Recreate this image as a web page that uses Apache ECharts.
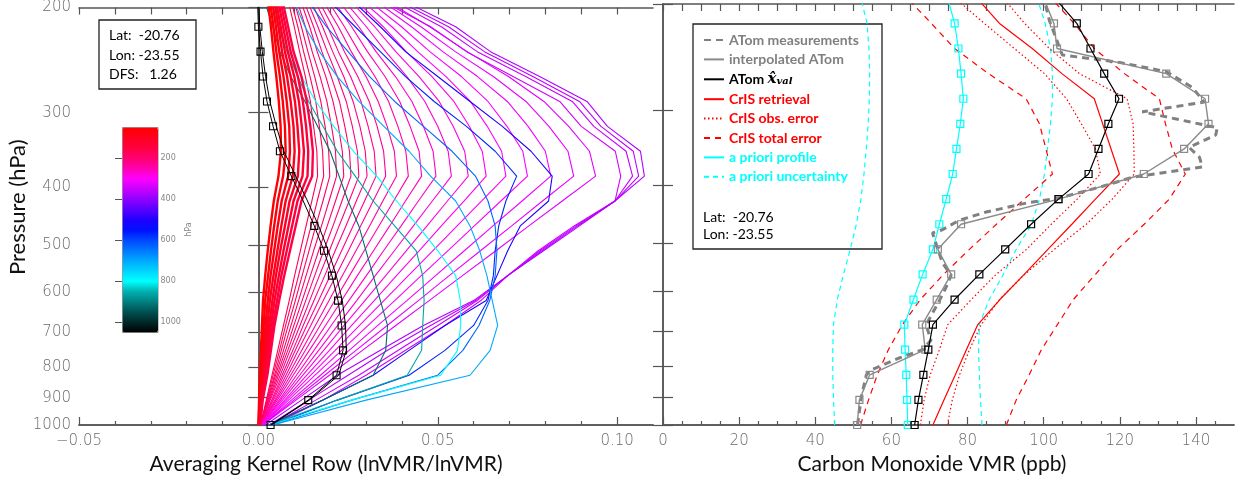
<!DOCTYPE html>
<html>
<head>
<meta charset="utf-8">
<script src="https://cdn.jsdelivr.net/npm/echarts@6/dist/echarts.min.js"></script>
<style>
html, body { margin: 0; padding: 0; background: #fff; }
#chart { width: 1244px; height: 480px; }
</style>
</head>
<body>
<div id="chart"></div>
<script>
// retrieval pressure levels (hPa), surface -> top
const levels = [1000, 908.5, 825.4, 749.9, 681.3, 619.0, 562.3, 510.9, 464.2, 421.7, 383.1, 348.1, 316.2, 287.3, 261.0, 237.1, 215.4, 195.7];

// averaging kernel rows: pressure of the row (colour) and value at each level
const akRowPressure = [50, 65, 80, 95, 110, 125, 140, 155,
  170, 177, 184, 191, 198, 205, 212, 219, 226, 233, 240, 248, 256, 264, 272, 280, 288, 296, 304, 312, 320, 328,
  340, 350, 360, 370,
  510, 570, 630, 700, 800, 860, 920];
const akRows = [
  [0.0000,0.0002,0.0004,0.0007,0.0010,0.0013,0.0019,0.0026,0.0034,0.0043,0.0056,0.0063,0.0062,0.0057,0.0050,0.0042,0.0035,0.0027],
  [0.0001,0.0003,0.0007,0.0011,0.0015,0.0019,0.0027,0.0035,0.0044,0.0054,0.0069,0.0076,0.0074,0.0068,0.0060,0.0050,0.0042,0.0033],
  [0.0001,0.0005,0.0010,0.0015,0.0020,0.0026,0.0034,0.0044,0.0054,0.0065,0.0083,0.0088,0.0086,0.0079,0.0070,0.0058,0.0049,0.0039],
  [0.0002,0.0006,0.0013,0.0019,0.0025,0.0032,0.0042,0.0053,0.0064,0.0076,0.0096,0.0101,0.0098,0.0090,0.0080,0.0066,0.0056,0.0045],
  [0.0003,0.0008,0.0016,0.0023,0.0030,0.0039,0.0049,0.0061,0.0074,0.0087,0.0110,0.0114,0.0109,0.0102,0.0090,0.0074,0.0062,0.0050],
  [0.0004,0.0009,0.0019,0.0027,0.0035,0.0045,0.0057,0.0070,0.0084,0.0098,0.0123,0.0127,0.0121,0.0113,0.0100,0.0082,0.0069,0.0056],
  [0.0004,0.0011,0.0022,0.0031,0.0040,0.0052,0.0064,0.0079,0.0094,0.0109,0.0137,0.0139,0.0133,0.0124,0.0110,0.0090,0.0076,0.0062],
  [0.0005,0.0012,0.0025,0.0035,0.0045,0.0058,0.0072,0.0088,0.0104,0.0120,0.0150,0.0152,0.0145,0.0135,0.0120,0.0098,0.0083,0.0068],
  [0.0006,0.0022,0.0038,0.0054,0.0070,0.0086,0.0101,0.0117,0.0133,0.0149,0.0165,0.0163,0.0154,0.0145,0.0131,0.0115,0.0100,0.0084],
  [0.0006,0.0024,0.0041,0.0059,0.0076,0.0094,0.0112,0.0129,0.0147,0.0164,0.0182,0.0179,0.0170,0.0160,0.0144,0.0126,0.0110,0.0092],
  [0.0006,0.0025,0.0045,0.0064,0.0083,0.0103,0.0122,0.0141,0.0160,0.0180,0.0199,0.0196,0.0186,0.0174,0.0157,0.0138,0.0120,0.0100],
  [0.0006,0.0027,0.0048,0.0070,0.0091,0.0112,0.0133,0.0154,0.0176,0.0197,0.0218,0.0215,0.0204,0.0191,0.0172,0.0150,0.0131,0.0109],
  [0.0006,0.0029,0.0052,0.0076,0.0099,0.0122,0.0145,0.0168,0.0192,0.0215,0.0238,0.0234,0.0223,0.0208,0.0188,0.0164,0.0143,0.0119],
  [0.0006,0.0031,0.0056,0.0082,0.0107,0.0132,0.0157,0.0182,0.0208,0.0233,0.0258,0.0254,0.0241,0.0226,0.0203,0.0177,0.0154,0.0128],
  [0.0006,0.0033,0.0061,0.0088,0.0116,0.0143,0.0170,0.0198,0.0225,0.0253,0.0280,0.0276,0.0262,0.0245,0.0220,0.0192,0.0166,0.0138],
  [0.0007,0.0037,0.0066,0.0096,0.0125,0.0155,0.0185,0.0214,0.0244,0.0273,0.0303,0.0298,0.0283,0.0264,0.0238,0.0207,0.0179,0.0148],
  [0.0007,0.0039,0.0071,0.0103,0.0135,0.0168,0.0200,0.0232,0.0264,0.0296,0.0328,0.0323,0.0306,0.0286,0.0257,0.0223,0.0193,0.0159],
  [0.0007,0.0042,0.0077,0.0111,0.0146,0.0181,0.0216,0.0251,0.0285,0.0320,0.0355,0.0349,0.0331,0.0309,0.0277,0.0240,0.0207,0.0170],
  [0.0008,0.0046,0.0083,0.0121,0.0159,0.0197,0.0234,0.0272,0.0310,0.0347,0.0385,0.0379,0.0359,0.0334,0.0300,0.0259,0.0223,0.0182],
  [0.0008,0.0049,0.0090,0.0131,0.0172,0.0213,0.0254,0.0295,0.0336,0.0377,0.0418,0.0411,0.0389,0.0363,0.0325,0.0280,0.0240,0.0196],
  [0.0008,0.0053,0.0097,0.0142,0.0187,0.0232,0.0276,0.0321,0.0366,0.0410,0.0455,0.0448,0.0423,0.0394,0.0353,0.0304,0.0260,0.0211],
  [0.0009,0.0058,0.0106,0.0155,0.0203,0.0252,0.0301,0.0349,0.0398,0.0446,0.0495,0.0487,0.0460,0.0428,0.0382,0.0328,0.0280,0.0226],
  [0.0009,0.0062,0.0115,0.0168,0.0221,0.0274,0.0326,0.0379,0.0432,0.0485,0.0538,0.0529,0.0500,0.0464,0.0414,0.0355,0.0301,0.0242],
  [0.0009,0.0067,0.0124,0.0182,0.0239,0.0297,0.0355,0.0412,0.0470,0.0527,0.0585,0.0575,0.0543,0.0504,0.0448,0.0383,0.0324,0.0259],
  [0.0010,0.0073,0.0135,0.0198,0.0260,0.0323,0.0385,0.0448,0.0510,0.0573,0.0635,0.0624,0.0588,0.0545,0.0484,0.0412,0.0348,0.0276],
  [0.0010,0.0078,0.0146,0.0214,0.0282,0.0350,0.0418,0.0486,0.0554,0.0622,0.0690,0.0678,0.0638,0.0591,0.0523,0.0444,0.0372,0.0293],
  [0.0010,0.0084,0.0158,0.0232,0.0306,0.0380,0.0454,0.0528,0.0602,0.0676,0.0750,0.0737,0.0693,0.0640,0.0566,0.0478,0.0399,0.0311],
  [0.0012,0.0092,0.0173,0.0253,0.0333,0.0414,0.0494,0.0574,0.0654,0.0735,0.0815,0.0800,0.0752,0.0694,0.0611,0.0514,0.0427,0.0330],
  [0.0012,0.0099,0.0185,0.0272,0.0359,0.0446,0.0532,0.0619,0.0706,0.0792,0.0879,0.0863,0.0810,0.0746,0.0655,0.0549,0.0453,0.0346],
  [0.0012,0.0105,0.0198,0.0290,0.0383,0.0476,0.0569,0.0662,0.0754,0.0847,0.0940,0.0923,0.0865,0.0796,0.0697,0.0582,0.0478,0.0362],
  [0.0040,0.0180,0.0300,0.0410,0.0520,0.0620,0.0695,0.0780,0.0880,0.0994,0.1010,0.0995,0.0900,0.0840,0.0710,0.0580,0.0480,0.0350],
  [0.0035,0.0160,0.0280,0.0390,0.0500,0.0610,0.0695,0.0785,0.0885,0.0994,0.1043,0.1025,0.0935,0.0875,0.0745,0.0610,0.0510,0.0380],
  [0.0030,0.0140,0.0250,0.0360,0.0480,0.0605,0.0695,0.0790,0.0890,0.0994,0.1060,0.1045,0.0955,0.0895,0.0765,0.0630,0.0530,0.0395],
  [0.0020,0.0120,0.0220,0.0340,0.0460,0.0600,0.0695,0.0795,0.0895,0.0994,0.1076,0.1065,0.0973,0.0916,0.0784,0.0647,0.0550,0.0410],
  [0.0030,0.0180,0.0320,0.0420,0.0520,0.0635,0.0665,0.0695,0.0730,0.0809,0.0819,0.0760,0.0680,0.0590,0.0500,0.0410,0.0340,0.0266],
  [0.0040,0.0220,0.0420,0.0520,0.0600,0.0640,0.0655,0.0660,0.0670,0.0690,0.0720,0.0660,0.0580,0.0490,0.0410,0.0340,0.0270,0.0200],
  [0.0040,0.0260,0.0500,0.0570,0.0615,0.0645,0.0660,0.0665,0.0660,0.0640,0.0605,0.0540,0.0460,0.0380,0.0310,0.0250,0.0190,0.0140],
  [0.0040,0.0300,0.0590,0.0646,0.0667,0.0652,0.0637,0.0617,0.0590,0.0550,0.0480,0.0420,0.0350,0.0280,0.0220,0.0170,0.0130,0.0100],
  [0.0030,0.0260,0.0508,0.0555,0.0564,0.0563,0.0550,0.0500,0.0445,0.0385,0.0330,0.0265,0.0210,0.0160,0.0120,0.0085,0.0058,0.0040],
  [0.0030,0.0220,0.0415,0.0455,0.0458,0.0462,0.0458,0.0440,0.0380,0.0320,0.0270,0.0220,0.0180,0.0140,0.0110,0.0080,0.0055,0.0035],
  [0.0030,0.0180,0.0320,0.0355,0.0360,0.0340,0.0320,0.0300,0.0280,0.0250,0.0225,0.0200,0.0165,0.0130,0.0090,0.0060,0.0040,0.0018]
];
// black kernel curves
const akBlack = [0.0034,0.0139,0.0218,0.0236,0.0232,0.0222,0.0205,0.0183,0.0156,0.0125,0.0092,0.0060,0.0041,0.0024,0.0013,0.0006,0.0000,-0.0002];
const akBlack2 = [0.0036,0.0142,0.0224,0.0245,0.0243,0.0234,0.0217,0.0195,0.0168,0.0137,0.0104,0.0071,0.0050,0.0032,0.0020,0.0011,0.0004,0.0001];

// CO profiles (ppb) on the levels
const atomInterp = [51.0, 51.6, 54.3, 68.9, 68.1, 71.9, 75.7, 72.2, 78.3, 103.9, 126.3, 136.9, 143.3, 142.4, 132.2, 103.5, 102.7, 100.0];
const atomXval   = [66.1, 67.1, 68.4, 69.7, 70.9, 76.6, 83.1, 89.9, 96.7, 103.9, 111.8, 114.4, 117.0, 119.8, 115.9, 112.3, 108.7, 103.0];
const crisRet    = [70.9, 73.8, 76.8, 79.7, 82.7, 88.5, 94.9, 101.1, 107.4, 113.6, 119.9, 117.7, 115.5, 113.3, 104.8, 97.0, 88.4, 82.5];
const crisObsLo  = [67.6, 68.6, 70.2, 72.6, 74.8, 81.0, 87.5, 95.5, 102.0, 108.8, 114.9, 113.6, 109.9, 106.0, 100.2, 92.3, 84.4, 76.8];
const crisObsHi  = [74.7, 76.0, 77.9, 80.5, 83.6, 88.4, 95.0, 102.8, 111.2, 118.0, 123.8, 123.7, 123.5, 121.9, 109.4, 101.5, 95.0, 89.4];
const crisTotLo  = [51.9, 54.0, 56.3, 59.2, 62.9, 67.6, 73.7, 80.5, 87.6, 94.9, 102.3, 100.6, 98.9, 95.4, 85.5, 76.6, 70.5, 64.2];
const crisTotHi  = [90.2, 92.8, 96.2, 99.4, 103.6, 107.8, 113.6, 119.4, 126.4, 133.0, 137.2, 133.8, 132.0, 130.4, 121.2, 113.3, 108.0, 102.0];
const aprioriProf = [64.3, 64.1, 63.9, 63.6, 63.4, 65.8, 68.2, 70.9, 72.6, 74.4, 76.1, 77.1, 78.1, 78.9, 78.3, 77.6, 76.6, 74.8];
const aprioriLo  = [45.1, 44.8, 44.6, 44.6, 44.8, 45.8, 47.4, 49.2, 50.8, 52.0, 52.8, 53.4, 53.9, 54.2, 54.3, 54.1, 53.6, 52.0];
const aprioriHi  = [83.8, 83.4, 83.1, 82.9, 83.1, 85.7, 89.4, 92.8, 96.8, 98.9, 100.2, 101.0, 101.8, 102.3, 102.3, 101.8, 100.4, 98.3];
// raw ATom measurements (own pressures)
const atomMeasP   = [1000, 899, 826, 810, 774, 750, 723, 682, 620, 590, 564, 538, 480, 474, 457, 443, 428, 420, 403, 388, 377, 373, 359, 346, 330, 321, 302, 291, 275, 259, 250, 243, 213, 197];
const atomMeasVmr = [51.1, 52.1, 53.4, 54.7, 62.1, 68.2, 70.4, 69.1, 72.7, 74.4, 75.7, 73.4, 70.8, 73.4, 77.9, 84.9, 95.5, 104.1, 114.6, 123.3, 136.4, 141.7, 140.9, 138.2, 145.2, 145.6, 125.9, 142.2, 139.0, 132.2, 119.9, 104.9, 101.5, 100.2];

// tick values
const pressureTicks = [200, 300, 400, 500, 600, 700, 800, 900, 1000];
const akMajorTicks = [-0.05, 0, 0.05, 0.1];
const akMinorTicks = [-0.04, -0.03, -0.02, -0.01, 0.01, 0.02, 0.03, 0.04, 0.06, 0.07, 0.08, 0.09];
const coMajorTicks = [0, 20, 40, 60, 80, 100, 120, 140];
const coMinorTicks = [5, 10, 15, 25, 30, 35, 45, 50, 55, 65, 70, 75, 85, 90, 95, 105, 110, 115, 125, 130, 135, 145];
const cbMajorTicks = [200, 400, 600, 800, 1000];
const cbMinorTicks = [100, 150, 250, 300, 350, 450, 500, 550, 650, 700, 750, 850, 900, 950];

const cbColors = ['#ff0000','#ff0020','#ff0040','#ff0070','#ff00b0','#ff00ff','#c800ff','#9000ff','#5800ff','#2000ff',
  '#0010ff','#0048ff','#0078ff','#00a8ff','#00d4ff','#00ffff','#00b0b0','#008080','#005050','#002828','#000000'];
const rowColor = p => echarts.color.lerp((p - 50) / 1000, cbColors);

const lg = p => Math.log10(p);
const onLevels = vals => vals.map((v, i) => [v, lg(levels[i])]);
const logTicks = pressureTicks.map(lg);

const AX = '#555';
const tickFont = { fontFamily: 'DejaVu Sans', fontWeight: 300, fontSize: 15, color: '#6a6a6a' };

function xAx(grid, min, max, pos, ticks, len, labels, fmt, name, pad) {
  return {
    type: 'value', gridIndex: grid, min: min, max: max, position: pos,
    axisLine: { show: true, lineStyle: { color: AX, width: 1.5 } },
    axisTick: { show: true, inside: true, length: len, customValues: ticks, lineStyle: { color: AX, width: 1.2 } },
    axisLabel: labels ? Object.assign({ show: true, customValues: labels, formatter: fmt, margin: 9 }, tickFont) : { show: false },
    splitLine: { show: false },
    name: name || '', nameLocation: 'middle', nameGap: 23,
    nameTextStyle: { fontFamily: 'Lato', fontSize: 21, color: '#111', padding: pad || 0 }
  };
}
function yAx(grid, pos, labels, name) {
  return {
    type: 'value', gridIndex: grid, min: lg(200), max: 3, inverse: true, position: pos,
    axisLine: { show: true, lineStyle: { color: AX, width: 1.5 } },
    axisTick: { show: true, inside: true, length: 10, customValues: logTicks, lineStyle: { color: AX, width: 1.2 } },
    axisLabel: labels ? Object.assign({ show: true, customValues: logTicks, margin: 8,
      formatter: v => String(Math.round(Math.pow(10, v))) }, tickFont) : { show: false },
    splitLine: { show: false },
    name: name || '', nameLocation: 'middle', nameGap: 44, nameRotate: 90,
    nameTextStyle: { fontFamily: 'Lato', fontSize: 22, color: '#111', padding: [0, 0, 0, 18] }
  };
}
const fmtAk = v => (v < 0 ? '\u2212' : '') + Math.abs(v).toFixed(2);

const series = [];
// left panel: kernel rows
akRows.forEach((row, i) => {
  const strat = akRowPressure[i] < 165;
  series.push({
    type: 'line', xAxisIndex: 0, yAxisIndex: 0, data: onLevels(row), symbol: 'none', silent: true,
    lineStyle: { color: rowColor(akRowPressure[i]), width: strat ? 2.4 : 1.1 },
    z: strat ? 3 : 2
  });
});
series.push({
  type: 'line', xAxisIndex: 0, yAxisIndex: 0, data: onLevels(akBlack2), symbol: 'none', silent: true,
  lineStyle: { color: '#000', width: 1 }, z: 4
});
series.push({
  type: 'line', xAxisIndex: 0, yAxisIndex: 0, silent: true,
  data: onLevels(akBlack).map((d, i) => i === 9 ? { value: d, symbol: 'none' } : d),
  symbol: 'rect', symbolSize: 7, showAllSymbol: true,
  itemStyle: { color: 'rgba(0,0,0,0)', borderColor: '#000', borderWidth: 1.1 },
  lineStyle: { color: '#000', width: 1 }, z: 5
});

// right panel: CO profiles
function co(name, vals, color, width, type, z, sym) {
  const s = {
    name: name, type: 'line', xAxisIndex: 3, yAxisIndex: 2, silent: true,
    data: vals, symbol: 'none', z: z,
    lineStyle: { color: color, width: width, type: type },
    itemStyle: { color: color }
  };
  if (sym) {
    s.symbol = 'rect'; s.symbolSize = 7; s.showAllSymbol = true;
    s.itemStyle = { color: 'rgba(0,0,0,0)', borderColor: color, borderWidth: 1.2 };
  }
  return s;
}
series.push(co('a priori uncertainty', onLevels(aprioriLo), '#00ffff', 1.2, [5, 4], 2));
series.push(co('a priori uncertainty', onLevels(aprioriHi), '#00ffff', 1.2, [5, 4], 2));
series.push(co('CrIS total error', onLevels(crisTotLo), '#ff0000', 1.2, [6, 5], 3));
series.push(co('CrIS total error', onLevels(crisTotHi), '#ff0000', 1.2, [6, 5], 3));
series.push(co('CrIS obs. error', onLevels(crisObsLo), '#ff0000', 1.2, [1.5, 2.5], 3));
series.push(co('CrIS obs. error', onLevels(crisObsHi), '#ff0000', 1.2, [1.5, 2.5], 3));
series.push(co('CrIS retrieval', onLevels(crisRet), '#ff0000', 1.2, 'solid', 4));
series.push(co('a priori profile', onLevels(aprioriProf), '#00ffff', 1.2, 'solid', 4, true));
series.push(co('ATom measurements', atomMeasVmr.map((v, i) => [v, lg(atomMeasP[i])]), '#808080', 3, [7, 5], 5));
series.push(co('interpolated ATom', onLevels(atomInterp), '#8a8a8a', 1.4, 'solid', 6, true));
series.push(co('ATom xval', onLevels(atomXval), '#000000', 1.2, 'solid', 7, true));

// colour bar holder (no data)
series.push({ type: 'scatter', xAxisIndex: 6, yAxisIndex: 4, data: [], silent: true });

const legendItems = [
  ['ATom measurements', '#808080'], ['interpolated ATom', '#808080'], ['ATom xval', '#000000'],
  ['CrIS retrieval', '#ff0000'], ['CrIS obs. error', '#ff0000'], ['CrIS total error', '#ff0000'],
  ['a priori profile', '#00ffff'], ['a priori uncertainty', '#00ffff']
];

const boxText = (x, y, t) => ({ type: 'text', x: x, y: y, style: { text: t, font: '14px Lato', fill: '#000', verticalAlign: 'middle' } });

const option = {
  animation: false,
  backgroundColor: '#fff',
  grid: [
    { left: 79, top: 4, width: 574, height: 421 },
    { left: 663, top: 4, width: 571, height: 421 },
    { left: 122, top: 127, width: 35.5, height: 205 }
  ],
  xAxis: [
    xAx(0, -0.05, 0.11, 'bottom', akMajorTicks, 8, akMajorTicks, fmtAk, 'Averaging Kernel Row (lnVMR/lnVMR)', [0, 80, 0, 0]),
    xAx(0, -0.05, 0.11, 'bottom', akMinorTicks, 4),
    xAx(0, -0.05, 0.11, 'top', akMajorTicks.concat(akMinorTicks), 7),
    xAx(1, 0, 150, 'bottom', coMajorTicks, 8, coMajorTicks, v => String(v), 'Carbon Monoxide VMR (ppb)', [0, 33, 0, 0]),
    xAx(1, 0, 150, 'bottom', coMinorTicks, 4),
    xAx(1, 0, 150, 'top', coMajorTicks.concat(coMinorTicks), 7),
    { type: 'value', gridIndex: 2, min: 0, max: 1, show: false }
  ],
  yAxis: [
    yAx(0, 'left', true, 'Pressure (hPa)'),
    yAx(0, 'right', false),
    yAx(1, 'left', false),
    yAx(1, 'right', false),
    {
      type: 'value', gridIndex: 2, min: 50, max: 1050, inverse: true, position: 'right',
      axisLine: { show: false },
      axisTick: { show: true, inside: true, length: 7, customValues: cbMajorTicks, lineStyle: { color: '#555', width: 1 } },
      axisLabel: { show: true, customValues: cbMajorTicks, margin: 3, formatter: v => String(v),
        fontFamily: 'DejaVu Sans', fontSize: 8, color: '#888' },
      splitLine: { show: false },
      name: 'hPa', nameLocation: 'middle', nameRotate: 90, nameGap: 24,
      nameTextStyle: { fontFamily: 'DejaVu Sans', fontSize: 8, color: '#888' }
    },
    {
      type: 'value', gridIndex: 2, min: 50, max: 1050, inverse: true, position: 'right',
      axisLine: { show: false },
      axisTick: { show: true, inside: true, length: 4, customValues: cbMinorTicks, lineStyle: { color: '#555', width: 1 } },
      axisLabel: { show: false }, splitLine: { show: false }
    }
  ],
  visualMap: {
    type: 'continuous', min: 50, max: 1050, inverse: true, seriesIndex: [series.length - 1],
    left: 122, top: 127, itemWidth: 35.5, itemHeight: 205, calculable: false, hoverLink: false,
    text: null, padding: 0, borderColor: '#888', borderWidth: 1,
    inRange: { color: cbColors }
  },
  legend: {
    orient: 'vertical', left: 703, top: 33, itemWidth: 20, itemHeight: 10, itemGap: 5.4,
    selectedMode: false, padding: 0,
    textStyle: {
      fontFamily: 'Lato', fontWeight: 'bold', fontSize: 14,
      rich: {
        b: { fontFamily: 'Lato', fontWeight: 'bold', fontSize: 14, color: '#000', lineHeight: 14 },
        x: { fontFamily: 'DejaVu Serif', fontStyle: 'italic', fontWeight: 'bold', fontSize: 15, color: '#000', lineHeight: 14 },
        s: { fontFamily: 'DejaVu Serif', fontStyle: 'italic', fontWeight: 'bold', fontSize: 10, color: '#000', lineHeight: 8, verticalAlign: 'bottom' }
      }
    },
    formatter: name => name === 'ATom xval' ? '{b|ATom }{x|x\u0302}{s|val}' : name,
    data: legendItems.map(d => ({ name: d[0], textStyle: { color: d[1] }, itemStyle: { opacity: 0 } }))
  },
  graphic: [
    { type: 'rect', shape: { x: 99, y: 20, width: 97, height: 69 }, style: { fill: 'none', stroke: '#222', lineWidth: 1.3 } },
    boxText(109, 35, 'Lat:  -20.76'),
    boxText(109, 55, 'Lon: -23.55'),
    boxText(109, 74, 'DFS:   1.26'),
    { type: 'rect', shape: { x: 693, y: 24, width: 189, height: 225 }, style: { fill: 'none', stroke: '#222', lineWidth: 1.3 } },
    boxText(703, 217, 'Lat:  -20.76'),
    boxText(703, 234, 'Lon: -23.55')
  ],
  series: series
};

const chart = echarts.init(document.getElementById('chart'));
chart.setOption(option);
</script>
</body>
</html>
